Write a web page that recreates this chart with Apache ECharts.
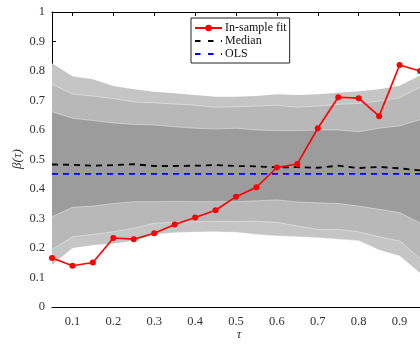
<!DOCTYPE html>
<html>
<head>
<meta charset="utf-8">
<script src="https://cdn.jsdelivr.net/npm/echarts@6/dist/echarts.min.js"></script>
<style>
  html, body { margin: 0; padding: 0; background: #fff; }
  #chart { width: 420px; height: 347px; }
</style>
</head>
<body>
<div id="chart"></div>
<script>
// Quantile levels
const tau = [0.05, 0.1, 0.15, 0.2, 0.25, 0.3, 0.35, 0.4, 0.45, 0.5, 0.55, 0.6, 0.65, 0.7, 0.75, 0.8, 0.85, 0.9, 0.95];

// In-sample coefficient estimates
const inSampleFit = [0.166, 0.140, 0.151, 0.234, 0.230, 0.250, 0.280, 0.303, 0.328, 0.374, 0.406, 0.473, 0.485, 0.606, 0.711, 0.708, 0.647, 0.820, 0.800];
const median = [0.483, 0.482, 0.479, 0.481, 0.484, 0.478, 0.478, 0.479, 0.481, 0.478, 0.477, 0.473, 0.474, 0.472, 0.479, 0.471, 0.475, 0.470, 0.463];
const ols = [0.451, 0.451, 0.451, 0.451, 0.451, 0.451, 0.451, 0.451, 0.451, 0.451, 0.451, 0.451, 0.451, 0.451, 0.451, 0.451, 0.451, 0.451, 0.451];

// Confidence band bounds (outer, middle, inner)
const outerUpper  = [0.826, 0.782, 0.772, 0.749, 0.738, 0.730, 0.725, 0.719, 0.713, 0.713, 0.715, 0.721, 0.719, 0.721, 0.726, 0.731, 0.738, 0.750, 0.785];
const middleUpper = [0.755, 0.722, 0.715, 0.707, 0.695, 0.692, 0.688, 0.684, 0.677, 0.679, 0.681, 0.684, 0.677, 0.681, 0.687, 0.690, 0.698, 0.709, 0.745];
const innerUpper  = [0.662, 0.640, 0.632, 0.624, 0.619, 0.617, 0.611, 0.606, 0.603, 0.606, 0.600, 0.598, 0.598, 0.600, 0.600, 0.594, 0.606, 0.614, 0.635];
const innerLower  = [0.306, 0.338, 0.342, 0.351, 0.357, 0.357, 0.358, 0.357, 0.357, 0.357, 0.360, 0.363, 0.356, 0.353, 0.351, 0.342, 0.331, 0.320, 0.285];
const middleLower = [0.195, 0.238, 0.246, 0.255, 0.267, 0.284, 0.287, 0.289, 0.290, 0.290, 0.291, 0.287, 0.275, 0.263, 0.263, 0.255, 0.238, 0.224, 0.165];
const outerLower  = [0.142, 0.199, 0.209, 0.214, 0.224, 0.246, 0.252, 0.254, 0.255, 0.253, 0.246, 0.241, 0.238, 0.235, 0.230, 0.225, 0.193, 0.173, 0.115];

// Axis ticks
const xTicks = [0.1, 0.2, 0.3, 0.4, 0.5, 0.6, 0.7, 0.8, 0.9];

const SERIF = '"Liberation Serif", "DejaVu Serif", serif';
const OUTER = '#c5c5c5', MIDDLE = '#b8b8b8', INNER = '#9c9c9c';

const pairs = ys => tau.map((t, i) => [t, ys[i]]);

// Nested bands painted from the top bound down: each layer fills to y = 0
// and the next one paints over it, leaving the ring between two bounds.
const bandLayers = [
  { bound: outerUpper, color: OUTER },
  { bound: middleUpper, color: MIDDLE },
  { bound: innerUpper, color: INNER },
  { bound: innerLower, color: MIDDLE },
  { bound: middleLower, color: OUTER },
  { bound: outerLower, color: '#ffffff' }
];

const bandSeries = bandLayers.map((b, i) => ({
  type: 'line',
  data: pairs(b.bound),
  symbol: 'none',
  silent: true,
  z: 1,
  lineStyle: { width: i === 0 ? 0 : 0.8, color: 'rgba(255,255,255,0.5)' },
  areaStyle: { color: b.color, opacity: 1, origin: 'start' }
}));

// Legend keys for the dashed reference lines: line only, no marker
const dashedKey = { color: 'transparent', borderWidth: 0 };

const chart = echarts.init(document.getElementById('chart'));
chart.setOption({
  animation: false,
  backgroundColor: '#fff',
  grid: { left: 52, top: 12, width: 375, height: 295, containLabel: false },
  xAxis: [
    {
      type: 'value', min: 0.05, max: 0.95, position: 'bottom',
      axisLine: { show: true, onZero: false, lineStyle: { color: '#000', width: 1 } },
      axisTick: { show: true, inside: true, length: 4, customValues: xTicks, lineStyle: { color: '#000' } },
      axisLabel: { customValues: xTicks, color: '#333', fontFamily: SERIF, fontSize: 12.5, margin: 8 },
      splitLine: { show: false }
    },
    {
      type: 'value', min: 0.05, max: 0.95, position: 'top',
      axisLine: { show: true, onZero: false, lineStyle: { color: '#000', width: 1 } },
      axisTick: { show: true, inside: true, length: 4, customValues: xTicks, lineStyle: { color: '#000' } },
      axisLabel: { show: false },
      splitLine: { show: false }
    }
  ],
  yAxis: {
    type: 'value', min: 0, max: 1, interval: 0.1,
    axisLine: { show: true, lineStyle: { color: '#000', width: 1 } },
    axisTick: { show: true, inside: true, length: 4, lineStyle: { color: '#000' } },
    axisLabel: { color: '#333', fontFamily: SERIF, fontSize: 12.5, margin: 7 },
    splitLine: { show: false }
  },
  legend: {
    data: [
      { name: 'In-sample fit' },
      { name: 'Median', itemStyle: dashedKey, lineStyle: { type: [5.5, 7.5] } },
      { name: 'OLS', itemStyle: dashedKey, lineStyle: { type: [5.5, 7.5] } }
    ],
    orient: 'vertical',
    left: 191, top: 18,
    itemWidth: 27, itemHeight: 8, itemGap: 1,
    padding: [4, 3, 3, 3],
    borderColor: '#222', borderWidth: 1,
    backgroundColor: '#fff',
    textStyle: { fontFamily: SERIF, fontSize: 12, color: '#111', padding: [0, 0, 0, -2] }
  },
  graphic: [
    {
      type: 'text', x: 18, y: 159, rotation: Math.PI / 2,
      style: { text: 'β(τ)', fill: '#333', font: 'italic 13px ' + SERIF, align: 'center', verticalAlign: 'middle' }
    },
    {
      type: 'text', x: 239, y: 335,
      style: { text: 'τ', fill: '#333', font: 'italic 13px ' + SERIF, align: 'center', verticalAlign: 'middle' }
    }
  ],
  series: bandSeries.concat([
    {
      name: 'Median', type: 'line', data: pairs(median), symbol: 'none', z: 3,
      itemStyle: { color: '#000' },
      lineStyle: { color: '#000', width: 1.8, type: [6, 5] }
    },
    {
      name: 'OLS', type: 'line', data: pairs(ols), symbol: 'none', z: 3,
      itemStyle: { color: '#0000ff' },
      lineStyle: { color: '#0000ff', width: 1.8, type: [6, 5] }
    },
    {
      name: 'In-sample fit', type: 'line', data: pairs(inSampleFit), z: 4,
      symbol: 'circle', symbolSize: 6, clip: false,
      itemStyle: { color: '#ff0000' },
      lineStyle: { color: '#ff0000', width: 1.6 }
    }
  ])
});
</script>
</body>
</html>
